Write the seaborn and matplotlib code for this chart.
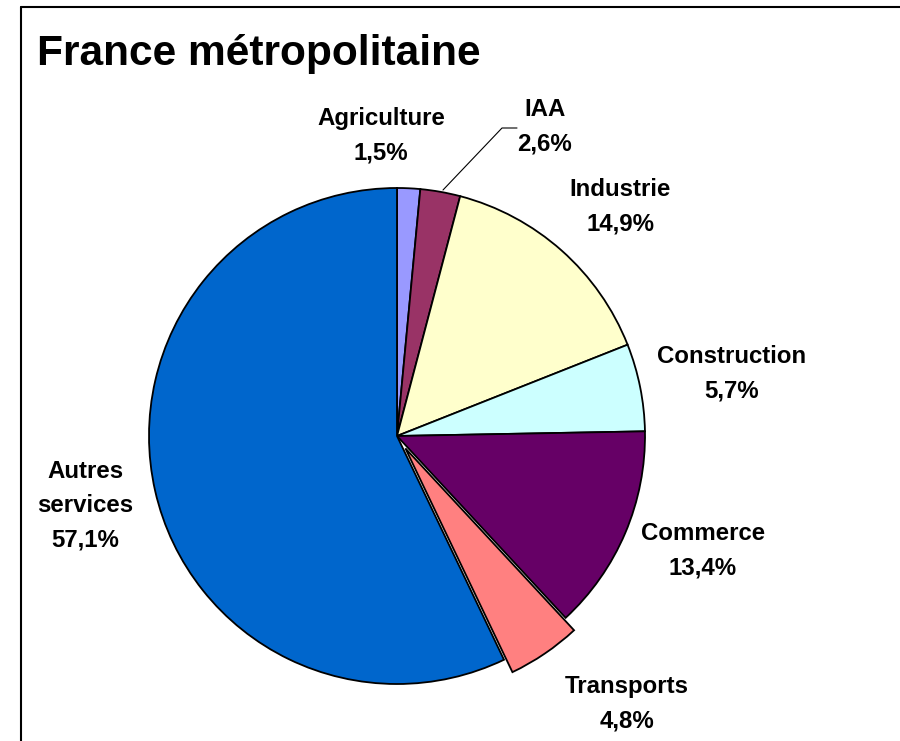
import matplotlib
matplotlib.use("Agg")
import matplotlib.pyplot as plt
from matplotlib.lines import Line2D
import seaborn as sns

####### data ########
secteurs = ['Agriculture', 'IAA', 'Industrie', 'Construction', 'Commerce', 'Transports', 'Autres\nservices']
parts = [1.5, 2.6, 14.9, 5.7, 13.4, 4.8, 57.1]
couleurs = ['#9999FF', '#993366', '#FFFFCC', '#CCFFFF', '#660066', '#FF8080', '#0066CC']

####### layout ########
# explode offset is in data units (pixels here), not in radius fraction
eclate = [0, 0, 0, 0, 0, 15, 0]
# label positions in pixels (x, y from top)
pos_labels = [(381, 136), (545, 127), (620, 207), (732, 374), (703, 551), (627, 704), (85, 506)]

sns.set_theme(style="white")
plt.rcParams['font.family'] = ['Liberation Sans', 'DejaVu Sans']
plt.rcParams['text.color'] = 'black'

W, H = 900, 741
fig = plt.figure(figsize=(W / 100, H / 100), dpi=100)
ax = fig.add_axes([0, 0, 1, 1])

ax.pie(parts, colors=couleurs, startangle=90, counterclock=False,
       explode=eclate, center=(397, H - 436), radius=248,
       wedgeprops=dict(edgecolor='black', linewidth=1.3))

# pie() resets the limits, so pixel coords are set afterwards
ax.set_xlim(0, W)
ax.set_ylim(0, H)
ax.set_aspect('equal')
ax.axis('off')

for nom, val, (x, y) in zip(secteurs, parts, pos_labels):
    txt = nom + '\n' + f"{val:.1f}".replace('.', ',') + '%'
    ax.text(x, H - y, txt, ha='center', va='center', fontsize=17.3,
            fontweight='bold', linespacing=1.63, color='black')

# leader line for IAA
ax.plot([443, 502, 517], [H - 190, H - 128, H - 128], color='black', lw=0.8)

fig.text(37 / W, 1 - 54 / H, 'France métropolitaine', fontsize=30.6,
         fontweight='bold', ha='left', va='center', color='black')

# frame (top and left only)
fig.add_artist(Line2D([21 / W, 21 / W], [0, 1 - 7 / H], color='black', lw=1.5, transform=fig.transFigure))
fig.add_artist(Line2D([21 / W, 1], [1 - 7 / H, 1 - 7 / H], color='black', lw=1.5, transform=fig.transFigure))

fig.savefig('out.png', dpi=100, facecolor='white')
